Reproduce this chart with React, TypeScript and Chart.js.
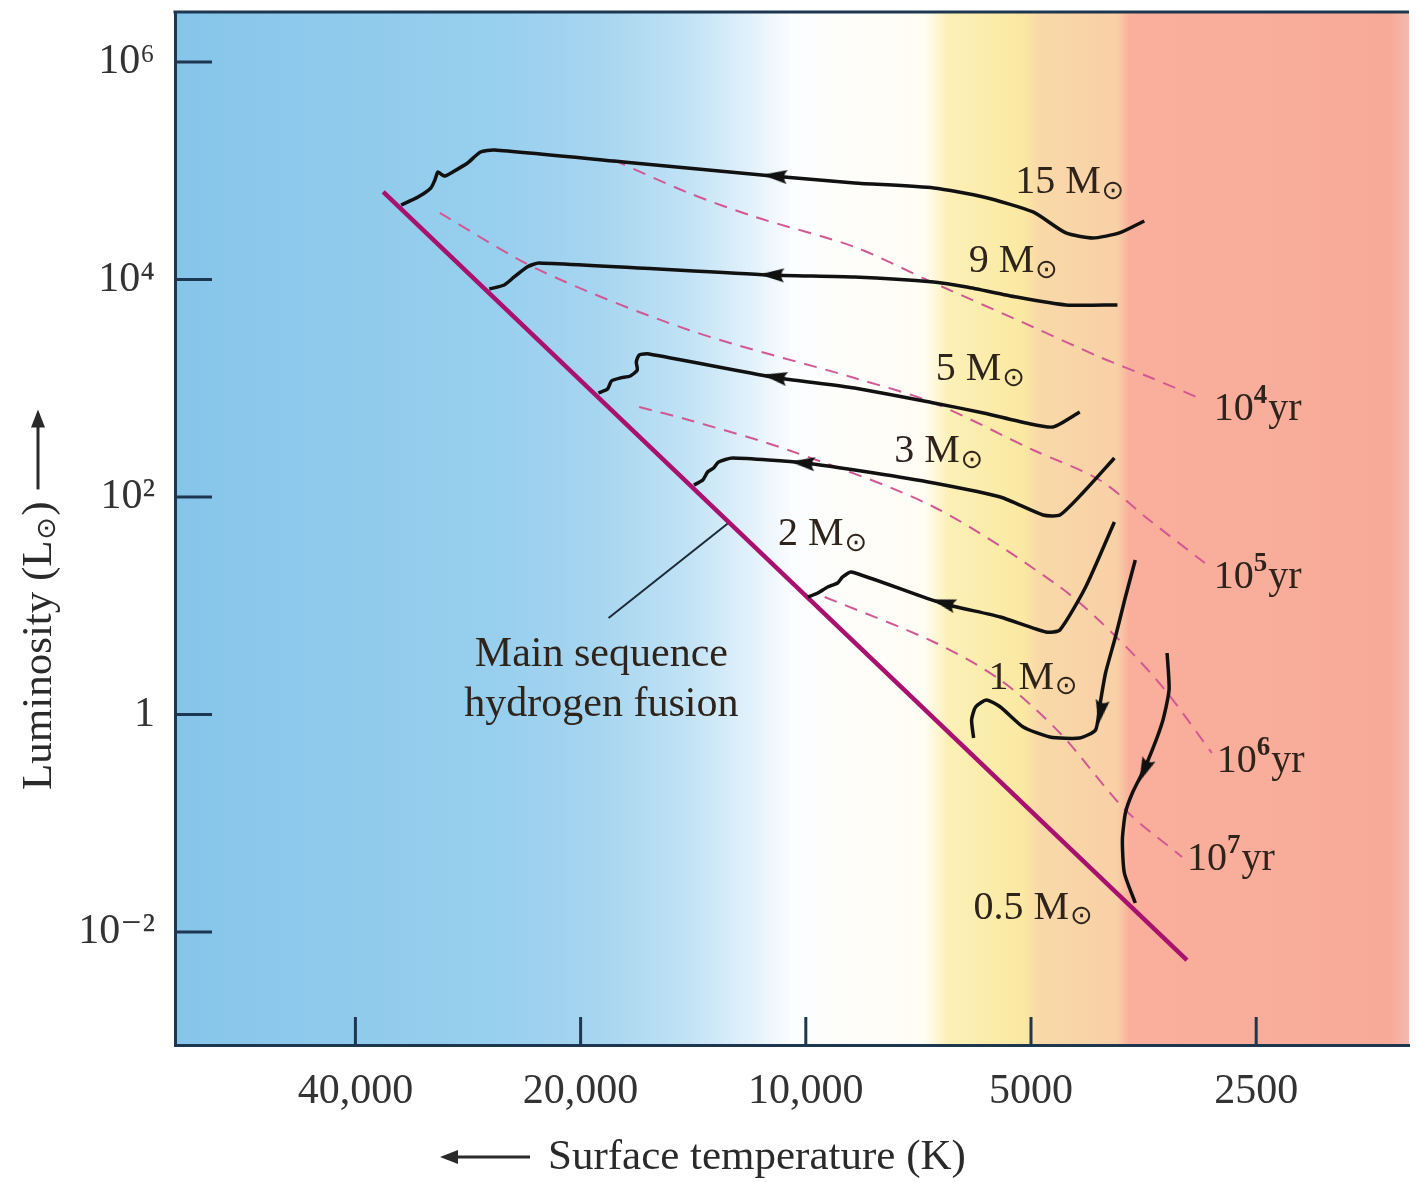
import React, { useEffect, useRef } from 'react';
import { Chart, registerables } from 'chart.js';

Chart.register(...registerables);

// ---------- axis ticks ----------
const xTickValues = [40000, 20000, 10000, 5000, 2500];
const xTickLabels = ['40,000', '20,000', '10,000', '5000', '2500'];
const yTickValues = [1e-2, 1, 1e2, 1e4, 1e6];
const yTickLabels = ['10⁻²', '1', '10²', '10⁴', '10⁶'];

// ---------- data: [surface temperature K, luminosity Lsun] ----------
const mainSequence = [[36720, 63770], [3094, 0.005527]];

const track15M = [
  [3528, 34510], [3809, 26770], [4136, 24070], [4491, 26770], [4969, 41750], [5787, 57350],
  [6743, 69400], [8608, 77160], [11090, 89460], [17530, 120400], [26080, 155100], [27220, 148700],
  [28320, 117800], [29650, 97390], [30380, 89460], [30750, 93340], [31040, 97390], [31320, 82170],
  [31710, 69400], [32990, 57350], [34750, 48430],
];
const track9M = [
  [3832, 5827], [4491, 5827], [5233, 6904], [6095, 8531], [6743, 9484], [8608, 10540],
  [11230, 11000], [22730, 14180], [23580, 13030], [24540, 10540], [25300, 8900], [26490, 8177],
];
const track5M = [
  [4303, 604.7], [4673, 440.2], [5075, 479.1], [5787, 592.0], [6743, 731.8], [8608, 1005],
  [11090, 1269], [16200, 2065], [16700, 2022], [16850, 1744], [16800, 1472], [17160, 1296],
  [17700, 1243], [18190, 1166], [18410, 984.2], [18930, 904.3],
];
const track3M = [
  [3868, 228.3], [4265, 108.8], [4575, 68.33], [4818, 68.33], [5494, 100], [6743, 134.5],
  [8100, 166.2], [10030, 205.4], [12530, 228.3], [13080, 209.8], [13280, 184.8], [13530, 169.8],
  [13730, 143.3], [14110, 128.9],
];
const track2M = [
  [3868, 58.9], [4226, 14.87], [4575, 5.984], [4774, 5.735], [5494, 7.88], [6600, 10.6],
  [8688, 20.43], [8929, 18.38], [9066, 16.19], [9347, 14.87], [9638, 13.1], [9936, 12.04],
];
const track1M = [
  [3627, 26.34], [3739, 12.04], [3856, 5.16], [3975, 2.407], [4049, 1.172], [4099, 0.7205],
  [4303, 0.6079], [4717, 0.6209], [5122, 0.7674], [5494, 1.172], [5734, 1.359], [5930, 1.172],
  [6003, 0.8902], [5966, 0.6079],
];
const track05M = [
  [3289, 3.678], [3269, 1.68], [3340, 0.8351], [3518, 0.329], [3660, 0.1898], [3739, 0.1243],
  [3774, 0.07015], [3751, 0.03487], [3627, 0.01848],
];

const iso1e4 = [
  [18080, 125600], [14340, 62430], [11680, 37550], [8608, 19910], [6743, 9286], [4969, 3658],
  [4049, 1938], [3475, 1269], [2983, 813.5],
];
const iso1e5 = [
  [30850, 40880], [22730, 12230], [14340, 3432], [8608, 1243], [6743, 731.8], [4969, 270.5],
  [4049, 143.3], [3475, 61.44], [2928, 24.72],
];
const iso1e6 = [
  [16700, 672.5], [14340, 510.5], [10560, 270.5], [6743, 80.91], [4575, 14.87], [3809, 4.843],
  [3310, 1.68], [2866, 0.4426],
];
const iso1e7 = [
  [9435, 12.04], [6743, 4.642], [5494, 2.076], [4575, 0.6761], [3739, 0.1323], [3142, 0.04895],
];

const leaderLine = [[12690, 57.68], [18350, 7.715]];

// direction arrows on the tracks
const arrowPoints = [
  [10990, 89460], [11090, 11000], [10990, 1269], [10090, 205.4], [6539, 10.6], [4036, 1.054], [3528, 0.3088],
];
const arrowRotation = [275, 272, 280, 276, 286, 190, 203];

// labels
const massLabels = ['15', '9', '5', '3', '2', '1', '0.5'];
const massLabelPos = [
  [5248, 77160], [6058, 14480], [6701, 1472], [7618, 259.3], [10890, 44.74], [5698, 2.165], [5966, 0.01662],
];
const isoLabels = ['4', '5', '6', '7'];
const isoLabelPos = [[2849, 631.0], [2849, 17.99], [2823, 0.3659], [3094, 0.04594]];
const msLabelLines = ['Main sequence', 'hydrogen fusion'];
const msLabelPos = [[18760, 3.525], [18760, 1.223]];

// background colour bands (temperature -> colour)
const bgStopTemps = [69700, 25840, 19000, 14470, 11680, 10430, 6950, 6441, 5122, 4893, 3832, 3694, 1654, 1562];
const bgStopColors = [
  'rgb(134,197,234)', 'rgb(152,207,238)', 'rgb(166,213,240)', 'rgb(192,226,245)', 'rgb(228,242,251)',
  'rgb(252,253,255)', 'rgb(255,253,244)', 'rgb(252,240,182)', 'rgb(251,233,162)', 'rgb(249,217,168)',
  'rgb(248,208,166)', 'rgb(249,175,155)', 'rgb(248,170,153)', 'rgb(242,186,175)',
];

const AXIS_COLOR = 'rgb(30,55,80)';
const TEXT_COLOR = '#2e241c';
const SERIF = '"Liberation Serif", "DejaVu Serif", serif';

const pts = (arr: number[][]) => arr.map(([x, y]) => ({ x, y }));

function makeArrowImage() {
  const c = document.createElement('canvas');
  c.width = 16;
  c.height = 26;
  const g = c.getContext('2d')!;
  g.fillStyle = '#111';
  g.beginPath();
  g.moveTo(8, 0);
  g.lineTo(15, 25);
  g.quadraticCurveTo(8, 19, 1, 25);
  g.closePath();
  g.fill();
  return c;
}

function drawArrow(ctx: CanvasRenderingContext2D, x1: number, y1: number, x2: number, y2: number) {
  const ang = Math.atan2(y2 - y1, x2 - x1);
  const hl = 18, hw = 7;
  ctx.beginPath();
  ctx.moveTo(x1, y1);
  ctx.lineTo(x2 - Math.cos(ang) * hl * 0.7, y2 - Math.sin(ang) * hl * 0.7);
  ctx.stroke();
  ctx.beginPath();
  ctx.moveTo(x2, y2);
  ctx.lineTo(x2 - Math.cos(ang) * hl - Math.sin(ang) * hw, y2 - Math.sin(ang) * hl + Math.cos(ang) * hw);
  ctx.lineTo(x2 - Math.cos(ang) * hl + Math.sin(ang) * hw, y2 - Math.sin(ang) * hl - Math.cos(ang) * hw);
  ctx.closePath();
  ctx.fill();
}

const bgPlugin = {
  id: 'bgBands',
  beforeDraw(chart: any) {
    const { ctx, chartArea: a, scales } = chart;
    const xs = scales.x;
    const g = ctx.createLinearGradient(a.left, 0, a.right, 0);
    bgStopTemps.forEach((t, i) => {
      const f = (xs.getPixelForValue(t) - a.left) / (a.right - a.left);
      g.addColorStop(Math.min(1, Math.max(0, f)), bgStopColors[i]);
    });
    ctx.save();
    ctx.fillStyle = g;
    ctx.fillRect(a.left, a.top, a.right - a.left, a.bottom - a.top);
    ctx.restore();
  },
};

const decoPlugin = {
  id: 'deco',
  afterDraw(chart: any) {
    const { ctx, chartArea: a, scales } = chart;
    const xs = scales.x, ys = scales.y;
    ctx.save();
    // frame top
    ctx.strokeStyle = AXIS_COLOR;
    ctx.lineWidth = 3;
    ctx.beginPath();
    ctx.moveTo(a.left - 1.5, a.top);
    ctx.lineTo(a.right, a.top);
    ctx.stroke();
    // inner tick marks
    yTickValues.forEach((v) => {
      const py = ys.getPixelForValue(v);
      ctx.beginPath();
      ctx.moveTo(a.left, py);
      ctx.lineTo(a.left + 37, py);
      ctx.stroke();
    });
    xTickValues.forEach((v) => {
      const px = xs.getPixelForValue(v);
      ctx.beginPath();
      ctx.moveTo(px, a.bottom);
      ctx.lineTo(px, a.bottom - 28);
      ctx.stroke();
    });

    ctx.fillStyle = TEXT_COLOR;
    ctx.textBaseline = 'middle';
    ctx.textAlign = 'left';
    // mass labels
    massLabels.forEach((m, i) => {
      const px = xs.getPixelForValue(massLabelPos[i][0]);
      const py = ys.getPixelForValue(massLabelPos[i][1]);
      ctx.font = `40px ${SERIF}`;
      const t = `${m} M`;
      ctx.fillText(t, px, py);
      const w = ctx.measureText(t).width;
      ctx.font = '27px "DejaVu Sans"';
      ctx.fillText('⊙', px + w + 1, py + 9);
    });
    // isochrone labels
    isoLabels.forEach((e, i) => {
      const px = xs.getPixelForValue(isoLabelPos[i][0]);
      const py = ys.getPixelForValue(isoLabelPos[i][1]);
      ctx.font = `40px ${SERIF}`;
      ctx.fillText('10', px, py);
      let w = ctx.measureText('10').width;
      ctx.font = `bold 27px ${SERIF}`;
      ctx.fillText(e, px + w, py - 14);
      w += ctx.measureText(e).width;
      ctx.font = `40px ${SERIF}`;
      ctx.fillText('yr', px + w + 1, py);
    });
    // main sequence label
    ctx.textAlign = 'center';
    ctx.font = `42px ${SERIF}`;
    msLabelLines.forEach((s, i) => {
      ctx.fillText(s, xs.getPixelForValue(msLabelPos[i][0]), ys.getPixelForValue(msLabelPos[i][1]));
    });

    // x axis title
    ctx.fillStyle = '#2a2a2a';
    ctx.strokeStyle = '#2a2a2a';
    ctx.lineWidth = 3;
    ctx.textAlign = 'left';
    ctx.font = `43px ${SERIF}`;
    ctx.fillText('Surface temperature (K)', 548, 1158);
    drawArrow(ctx, 530, 1157, 440, 1157);

    // y axis title (rotated)
    ctx.save();
    ctx.translate(40, 790);
    ctx.rotate(-Math.PI / 2);
    ctx.font = `43px ${SERIF}`;
    const t1 = 'Luminosity (L';
    ctx.fillText(t1, 0, 0);
    let w = ctx.measureText(t1).width;
    ctx.font = '27px "DejaVu Sans"';
    ctx.fillText('⊙', w + 1, 8);
    w += ctx.measureText('⊙').width + 2;
    ctx.font = `43px ${SERIF}`;
    ctx.fillText(')', w, 0);
    w += ctx.measureText(')').width;
    drawArrow(ctx, w + 12, -2, w + 92, -2);
    ctx.restore();

    ctx.restore();
  },
};

export default function App() {
  const ref = useRef<HTMLCanvasElement>(null);
  useEffect(() => {
    if (!ref.current) return;
    const arrowImg = makeArrowImage();
    const trackStyle = {
      showLine: true, pointRadius: 0, borderColor: '#111', borderWidth: 3.5, tension: 0.2, fill: false,
    };
    const isoStyle = {
      showLine: true, pointRadius: 0, borderColor: 'rgb(210,88,148)', borderWidth: 2, tension: 0.3,
      borderDash: [13, 9], fill: false,
    };
    const chart = new Chart(ref.current, {
      type: 'scatter',
      data: {
        datasets: [
          {
            label: 'arrows', data: pts(arrowPoints), showLine: false, pointStyle: arrowImg as any,
            pointRotation: arrowRotation, pointRadius: 10, pointBackgroundColor: '#111', pointBorderWidth: 0,
          } as any,
          { label: '15 Msun', data: pts(track15M), ...trackStyle },
          { label: '9 Msun', data: pts(track9M), ...trackStyle },
          { label: '5 Msun', data: pts(track5M), ...trackStyle },
          { label: '3 Msun', data: pts(track3M), ...trackStyle },
          { label: '2 Msun', data: pts(track2M), ...trackStyle },
          { label: '1 Msun', data: pts(track1M), ...trackStyle },
          { label: '0.5 Msun', data: pts(track05M), ...trackStyle },
          {
            label: 'Main sequence', data: pts(mainSequence), showLine: true, pointRadius: 0,
            borderColor: 'rgb(168,18,110)', borderWidth: 4.5, tension: 0,
          },
          {
            label: 'leader', data: pts(leaderLine), showLine: true, pointRadius: 0,
            borderColor: '#1c2a38', borderWidth: 2, tension: 0,
          },
          { label: '1e4 yr', data: pts(iso1e4), ...isoStyle },
          { label: '1e5 yr', data: pts(iso1e5), ...isoStyle },
          { label: '1e6 yr', data: pts(iso1e6), ...isoStyle },
          { label: '1e7 yr', data: pts(iso1e7), ...isoStyle },
        ] as any,
      },
      options: {
        animation: false,
        responsive: false,
        devicePixelRatio: 1,
        layout: { padding: { top: 12, right: 0, left: 0, bottom: 0 } },
        plugins: { legend: { display: false }, tooltip: { enabled: false } },
        scales: {
          x: {
            type: 'logarithmic',
            reverse: true,
            min: 1562,
            max: 69700,
            grid: { display: false, drawTicks: false },
            border: { display: true, color: AXIS_COLOR, width: 3 },
            ticks: {
              autoSkip: false,
              maxRotation: 0,
              padding: 22,
              color: '#333',
              font: { family: SERIF, size: 42 },
              callback: (v: any) => {
                const i = xTickValues.indexOf(Number(v));
                return i >= 0 ? xTickLabels[i] : '';
              },
            },
            afterBuildTicks: (s: any) => { s.ticks = xTickValues.map((v) => ({ value: v })); },
            afterFit: (s: any) => { s.height = 137; s.paddingLeft = 0; s.paddingRight = 0; },
          },
          y: {
            type: 'logarithmic',
            min: 9.14e-4,
            max: 2.88e6,
            grid: { display: false, drawTicks: false },
            border: { display: true, color: AXIS_COLOR, width: 3 },
            ticks: {
              autoSkip: false,
              padding: 20,
              color: '#333',
              font: { family: SERIF, size: 42 },
              callback: (v: any) => {
                const i = yTickValues.indexOf(Number(v));
                return i >= 0 ? yTickLabels[i] : '';
              },
            },
            afterBuildTicks: (s: any) => { s.ticks = yTickValues.map((v) => ({ value: v })); },
            afterFit: (s: any) => { s.width = 175; s.paddingTop = 0; s.paddingBottom = 0; },
          },
        },
      } as any,
      plugins: [bgPlugin, decoPlugin],
    });
    return () => chart.destroy();
  }, []);
  return (
    <div style={{ position: 'absolute', left: 0, top: 0, width: 1419, height: 1182, background: '#fff' }}>
      <canvas ref={ref} width={1419} height={1182} style={{ display: 'block' }} />
    </div>
  );
}
